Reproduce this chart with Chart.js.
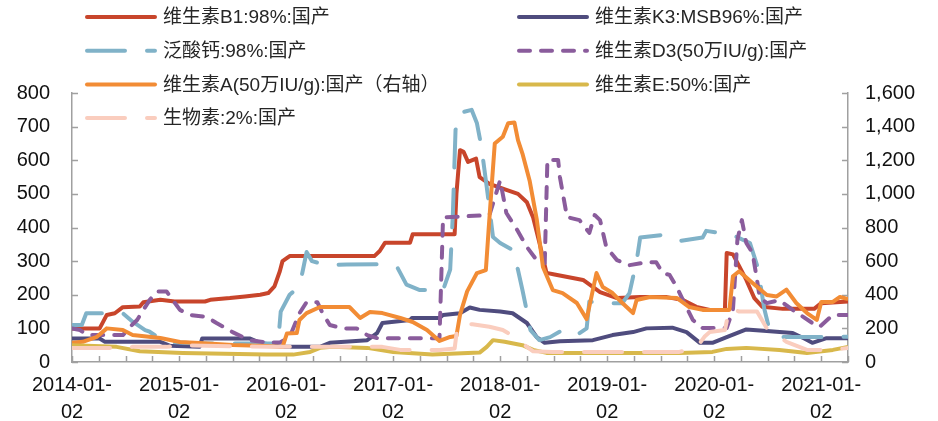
<!DOCTYPE html>
<html>
<head>
<meta charset="utf-8">
<script src="https://cdn.jsdelivr.net/npm/chart.js@4.4.1/dist/chart.umd.min.js"></script>
<style>
  html, body { margin: 0; padding: 0; background: #fff; }
</style>
</head>
<body>
<canvas id="chart" width="938" height="421"></canvas>
<script>
// x = months since 2014-01-02, y = price
const seriesNames = [
  '维生素B1:98%:国产',
  '维生素K3:MSB96%:国产',
  '泛酸钙:98%:国产',
  '维生素D3(50万IU/g):国产',
  '维生素A(50万IU/g):国产（右轴）',
  '维生素E:50%:国产',
  '生物素:2%:国产'
];

const b1 = [[0,100],[3.1,100],[3.9,140],[4.8,145],[5.7,163],[7.6,165],[8.0,178],[9.9,185],[11.5,180],[14.9,180],[15.5,185],[17.7,190],[19.4,195],[21.1,200],[22.0,205],[22.7,225],[23.3,270],[23.6,300],[24.4,315],[33.9,315],[34.5,330],[35.1,355],[37.9,355],[38.2,380],[42.9,380],[43.1,500],[43.5,630],[43.9,625],[44.4,595],[45.3,605],[45.7,550],[46.8,530],[48.7,512],[50.0,500],[51.0,475],[51.7,430],[52.4,355],[53.2,265],[54.1,260],[57.3,244],[59.2,208],[61.1,190],[63.7,193],[66.7,193],[68.5,184],[70.0,164],[71.5,155],[73.2,155],[73.4,324],[74.1,320],[74.8,285],[75.6,244],[76.5,190],[77.4,164],[79.7,158],[83.2,158],[84.0,175],[87,180]];

const k3 = [[0,70],[3.1,70],[3.7,60],[9.9,60],[11.0,48],[14.3,45],[14.6,70],[19.9,70],[21.1,57],[23.6,45],[27.8,45],[28.9,57],[33.1,65],[34.2,86],[34.8,116],[37.9,125],[38.1,131],[41.2,131],[41.6,140],[43.5,145],[44.6,162],[45.7,155],[48.0,150],[49.4,145],[51.0,116],[52.1,74],[53.0,57],[54.7,62],[58.4,65],[60.6,80],[62.9,89],[64.4,100],[67.3,102],[68.9,89],[70.4,57],[71.8,57],[73.4,74],[75.6,97],[77.9,92],[80.8,86],[82.1,70],[83.0,57],[84.6,71],[87,71]];

const panto = [[0,110],[1.1,110],[1.6,145],[5.7,145],[6.8,120],[8.2,95],[8.7,90],[10.4,60],[14.3,55],[19.9,55],[23.1,55],[23.4,150],[24.4,200],[25.5,225],[25.9,275],[26.3,327],[26.9,300],[28.6,288],[30.8,290],[34.8,291],[36.5,280],[37.5,230],[39.0,214],[41.6,214],[42.4,275],[42.7,440],[43.0,690],[43.4,740],[44.8,750],[45.4,710],[45.9,640],[46.5,520],[47.2,372],[48.0,354],[49.4,333],[50.0,274],[50.5,214],[51.0,150],[51.4,95],[52.4,65],[53.6,74],[55.0,95],[56.6,80],[57.7,100],[58.0,180],[59.2,175],[61.7,175],[62.5,205],[63.3,300],[63.7,370],[66.2,378],[68.1,360],[70.7,370],[71.1,390],[73.4,381],[74.5,372],[76.0,354],[76.9,280],[77.6,160],[78.2,95],[79.7,74],[87,75]];

const d3 = [[0,100],[0.9,95],[1.7,80],[5.7,80],[6.5,104],[7.3,125],[8.0,155],[8.7,184],[9.5,210],[10.6,210],[11.3,184],[12.1,155],[13.2,140],[15.1,134],[16.2,116],[18.0,89],[19.9,65],[21.8,58],[23.3,58],[24.4,74],[25.5,145],[26.3,178],[27.5,178],[28.1,145],[28.9,110],[30.4,100],[31.9,100],[33.1,80],[34.2,71],[41.2,71],[41.6,430],[46.8,437],[48.0,540],[48.7,443],[49.9,393],[51.0,342],[52.1,303],[53.0,294],[53.3,601],[54.5,601],[54.7,550],[55.5,431],[56.9,422],[58.0,384],[58.6,437],[59.2,422],[59.9,342],[61.1,303],[62.5,288],[64.4,297],[65.5,297],[66.2,265],[67.0,259],[67.8,223],[68.5,184],[69.6,125],[70.7,101],[73.4,101],[74.1,155],[74.6,363],[75.1,422],[75.6,354],[76.3,324],[76.8,244],[77.1,193],[77.9,175],[79.3,184],[80.8,155],[83.0,116],[83.8,104],[85.3,140],[87,140]];

const va = [[0,115],[1.2,120],[2.8,150],[3.9,200],[5.7,190],[6.8,161],[9.9,143],[12.1,119],[14.3,113],[18.0,101],[21.8,95],[23.6,89],[24.1,170],[25.2,172],[25.5,250],[26.3,291],[27.8,327],[31.1,327],[32.3,262],[33.4,297],[34.8,291],[36.8,262],[38.2,238],[39.8,190],[41.2,125],[42.4,149],[43.1,155],[43.5,280],[44.3,420],[45.4,529],[46.4,547],[46.7,780],[47.1,1080],[47.4,1300],[48.3,1340],[48.9,1420],[49.6,1425],[50.0,1320],[50.5,1240],[51.3,1080],[52.1,850],[52.8,565],[53.9,428],[55.0,410],[56.6,351],[57.7,255],[58.8,529],[59.5,446],[60.6,410],[61.7,351],[62.9,291],[63.3,369],[64.8,387],[67.8,381],[69.2,327],[70.7,310],[73.7,310],[74.1,510],[74.8,540],[76.3,470],[77.9,398],[79.0,390],[80.1,430],[81.2,351],[82.4,291],[83.5,250],[84.0,357],[85.3,357],[86.1,387],[87,375]];

const ve = [[0,50],[5.0,45],[7.6,32],[12.4,27],[21.8,22],[24.8,22],[26.7,30],[27.8,42],[29.2,45],[33.1,42],[36.0,30],[40.4,22],[45.7,28],[46.5,45],[47.2,65],[48.5,60],[50.5,50],[51.7,36],[53.2,27],[68.1,27],[71.8,30],[73.4,39],[75.6,42],[79.3,36],[82.4,27],[85.3,36],[87,45]];

const biotin = [[0,42],[4.3,42],[6.8,45],[10.6,45],[12.1,50],[21.8,45],[28.1,45],[34.8,45],[36.8,36],[41.2,36],[42.9,40],[43.2,104],[43.8,115],[44.9,112],[46.8,105],[48.3,95],[49.4,78],[51.0,45],[51.7,32],[53.9,30],[68.1,30],[70.1,45],[70.9,75],[71.5,89],[73.2,95],[73.7,160],[74.8,150],[76.8,150],[77.9,100],[80.1,60],[82.4,36],[85.3,36],[87,42]];

const xMonths = 87;          // axis end
const leftMax = 800, leftStep = 100;
const rightMax = 1600, rightStep = 200;

const colors = ['#C8452B', '#4F4C7E', '#80B2C8', '#8A5C9C', '#F28C35', '#D8B84B', '#FACDBE'];
const dashes = [[], [], [38, 22], [11, 11], [], [], [38, 22]];
const seriesData = [b1, k3, panto, d3, va, ve, biotin];
const axisOf = ['y', 'y', 'y', 'y', 'y2', 'y', 'y'];

const tickFont = { family: '"Liberation Sans", Arial, sans-serif', size: 20, lineHeight: 1.35 };
const axisColor = '#a0a0a0';

const datasets = seriesData.map((arr, i) => ({
  label: seriesNames[i],
  data: arr.map(p => ({ x: p[0], y: p[1] })),
  yAxisID: axisOf[i],
  borderColor: colors[i],
  backgroundColor: colors[i],
  borderWidth: 4,
  borderDash: dashes[i],
  borderCapStyle: dashes[i].length ? 'round' : 'butt',
  borderJoinStyle: 'round',
  pointRadius: 0,
  tension: 0,
  fill: false,
  order: seriesData.length - i
}));

// small inward tick marks on every axis
const innerTicks = {
  id: 'innerTicks',
  beforeDatasetsDraw(chart) {
    const { ctx, chartArea: a, scales } = chart;
    ctx.save();
    ctx.strokeStyle = axisColor;
    ctx.lineWidth = 1.5;
    ctx.beginPath();
    scales.x.ticks.forEach(t => {
      const px = Math.round(scales.x.getPixelForValue(t.value)) + 0.5;
      ctx.moveTo(px, a.bottom); ctx.lineTo(px, a.bottom - 6);
    });
    scales.y.ticks.forEach(t => {
      const py = Math.round(scales.y.getPixelForValue(t.value)) + 0.5;
      ctx.moveTo(a.left, py); ctx.lineTo(a.left + 6, py);
    });
    scales.y2.ticks.forEach(t => {
      const py = Math.round(scales.y2.getPixelForValue(t.value)) + 0.5;
      ctx.moveTo(a.right, py); ctx.lineTo(a.right - 6, py);
    });
    ctx.stroke();
    ctx.restore();
  }
};

// two-column legend laid over the top of the plot
const overlayLegend = {
  id: 'overlayLegend',
  afterDraw(chart) {
    const ctx = chart.ctx;
    const colX = [85, 517];
    ctx.save();
    ctx.font = '19px "Liberation Sans", "Noto Sans CJK SC", sans-serif';
    ctx.textBaseline = 'middle';
    ctx.fillStyle = '#262626';
    chart.data.datasets.forEach((ds, i) => {
      const x = colX[i % 2];
      const y = 17 + Math.floor(i / 2) * 33.7;
      ctx.strokeStyle = ds.borderColor;
      ctx.lineWidth = 4;
      ctx.lineCap = 'round';
      ctx.setLineDash(ds.borderDash);
      ctx.beginPath();
      ctx.moveTo(x + 2, y); ctx.lineTo(x + 70, y);
      ctx.stroke();
      ctx.setLineDash([]);
      ctx.fillText(ds.label, x + 78, y + 1);
    });
    ctx.restore();
  }
};

new Chart(document.getElementById('chart'), {
  type: 'line',
  data: { datasets },
  options: {
    responsive: false,
    animation: false,
    layout: { padding: { top: 93, left: 0, right: 0, bottom: 0 } },
    plugins: { legend: { display: false }, tooltip: { enabled: false } },
    scales: {
      x: {
        type: 'linear',
        min: 0,
        max: xMonths,
        border: { color: axisColor, width: 1.5 },
        grid: { display: true, drawOnChartArea: false, drawTicks: false },
        ticks: {
          stepSize: 3,
          autoSkip: false,
          maxRotation: 0,
          padding: 10,
          color: '#111',
          font: tickFont,
          callback: v => (v % 12 === 0 ? [(2014 + v / 12) + '-01-', '02'] : '')
        },
        afterFit: s => { s.height = 59; }
      },
      y: {
        position: 'left',
        min: 0,
        max: leftMax,
        border: { color: axisColor, width: 1.5 },
        grid: { display: true, drawOnChartArea: false, drawTicks: false },
        ticks: { stepSize: leftStep, padding: 22, color: '#111', font: tickFont },
        afterFit: s => { s.width = 72; }
      },
      y2: {
        position: 'right',
        min: 0,
        max: rightMax,
        border: { color: axisColor, width: 1.5 },
        grid: { display: true, drawOnChartArea: false, drawTicks: false },
        ticks: {
          stepSize: rightStep,
          padding: 17,
          color: '#111',
          font: tickFont,
          callback: v => v.toLocaleString('en-US')
        },
        afterFit: s => { s.width = 90; }
      }
    }
  },
  plugins: [innerTicks, overlayLegend]
});
</script>
</body>
</html>
